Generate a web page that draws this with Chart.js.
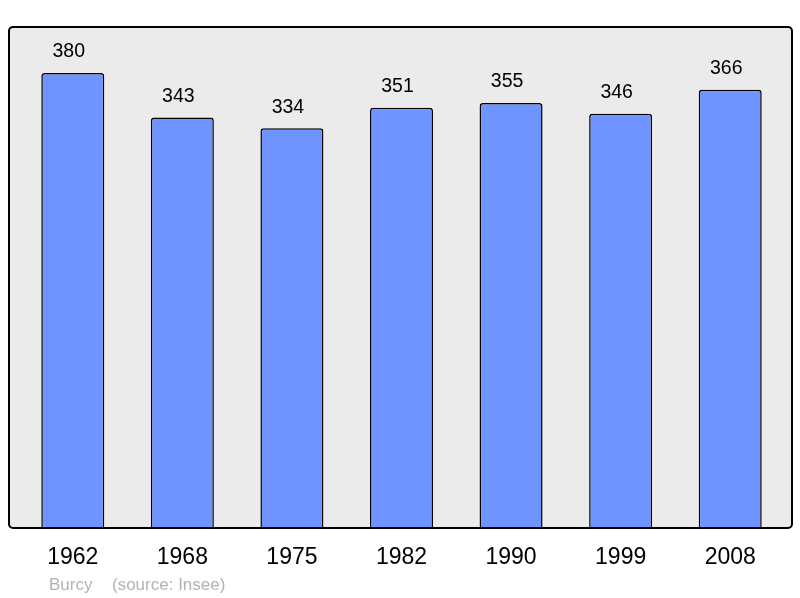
<!DOCTYPE html>
<html>
<head>
  <title>Burcy population</title>
  <script src="https://cdn.jsdelivr.net/npm/chart.js@4/dist/chart.umd.min.js"></script>
  <style>
    html, body { margin: 0; padding: 0; background: #ffffff; }
    .chart-container { width: 800px; height: 598px; }
  </style>
</head>
<body>
  <div class="chart-container">
    <canvas id="popChart" width="800" height="598"></canvas>
  </div>
  <script>
    // census years and population
    const years = ['1962', '1968', '1975', '1982', '1990', '1999', '2008'];
    const population = [380, 343, 334, 351, 355, 346, 366];
    const place = 'Burcy';
    const source = '(source: Insee)';

    const FONT = '"Liberation Sans", Arial, sans-serif';

    // grey panel behind the bars + its frame
    const panelPlugin = {
      id: 'panel',
      roundRect(ctx) {
        ctx.beginPath();
        ctx.roundRect(9, 27, 783, 501, 4);
      },
      beforeDatasetsDraw(chart) {
        const ctx = chart.ctx;
        ctx.save();
        this.roundRect(ctx);
        ctx.fillStyle = '#ebebeb';
        ctx.fill();
        ctx.restore();
      },
      afterDatasetsDraw(chart) {
        const ctx = chart.ctx;
        ctx.save();
        this.roundRect(ctx);
        ctx.lineWidth = 2;
        ctx.strokeStyle = '#000';
        ctx.stroke();

        // values above bars (sit a little left of the bar centre)
        const meta = chart.getDatasetMeta(0);
        ctx.fillStyle = '#000';
        ctx.font = '19.5px ' + FONT;
        ctx.textAlign = 'center';
        ctx.textBaseline = 'middle';
        meta.data.forEach((bar, i) => {
          ctx.fillText(String(population[i]), bar.x - 4, bar.y - 21);
        });

        // footer
        ctx.fillStyle = '#b3b3b3';
        ctx.font = '17px ' + FONT;
        ctx.textAlign = 'left';
        ctx.textBaseline = 'alphabetic';
        ctx.fillText(place, 49, 590);
        ctx.fillText(source, 112, 590);
        ctx.restore();
      }
    };

    const ctx = document.getElementById('popChart').getContext('2d');
    new Chart(ctx, {
      type: 'bar',
      data: {
        labels: years,
        datasets: [{
          data: population,
          backgroundColor: '#7094ff',
          borderColor: '#000',
          borderWidth: 1.5,
          borderRadius: 3,
          borderSkipped: 'bottom',
          barPercentage: 0.575,
          categoryPercentage: 1
        }]
      },
      options: {
        responsive: false,
        animation: false,
        layout: { padding: { left: 18, right: 15, top: 27, bottom: 0 } },
        plugins: {
          legend: { display: false },
          tooltip: { enabled: false }
        },
        scales: {
          x: {
            grid: { display: false, drawTicks: false },
            border: { display: false },
            ticks: {
              color: '#000',
              padding: 16,
              font: { family: FONT, size: 23 }
            },
            afterFit(scale) { scale.height = 70; }
          },
          y: {
            display: false,
            min: 0,
            max: 418.5
          }
        }
      },
      plugins: [panelPlugin]
    });
  </script>
</body>
</html>
